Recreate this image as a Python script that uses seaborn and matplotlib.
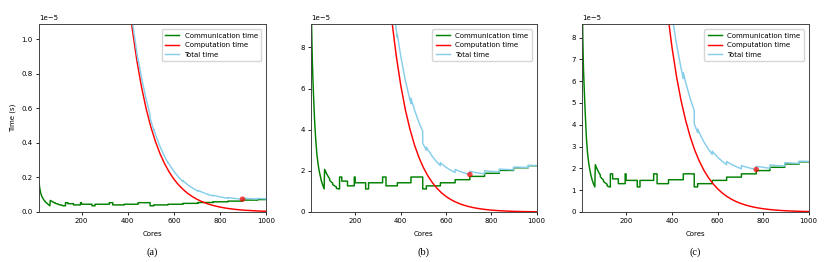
import matplotlib
matplotlib.use("Agg")
import matplotlib.pyplot as plt
import seaborn as sns
import numpy as np
from matplotlib.ticker import MultipleLocator

# ---------------- data (time values in units of 1e-5 s) ----------------
SCALE = 1e-5

# panel (a)
a_comm_x = [15, 18, 22, 26, 30, 36, 42, 48, 55, 62, 64, 72, 80, 86, 86, 94, 100, 100, 108, 116, 116, 126, 130, 130,
            140, 140, 165, 165, 195, 195, 199, 199, 245, 245, 258, 258, 320, 320, 335, 335, 385, 385, 445, 445,
            497, 497, 513, 513, 575, 575, 640, 640, 705, 705, 770, 770, 835, 835, 898, 898, 963, 963, 1000]
a_comm_y = [0.175, 0.14, 0.112, 0.095, 0.083, 0.07, 0.06, 0.052, 0.044, 0.036, 0.067, 0.061, 0.055, 0.052, 0.05,
            0.047, 0.045, 0.043, 0.041, 0.039, 0.037, 0.036, 0.036, 0.054, 0.054, 0.048, 0.048, 0.041, 0.041, 0.054,
            0.054, 0.045, 0.045, 0.036, 0.036, 0.045, 0.045, 0.054, 0.054, 0.041, 0.041, 0.045, 0.045, 0.054,
            0.054, 0.036, 0.036, 0.041, 0.041, 0.045, 0.045, 0.050, 0.050, 0.055, 0.055, 0.059, 0.059, 0.063,
            0.063, 0.069, 0.069, 0.072, 0.072]
a_comp_x = [380, 400, 420, 440, 460, 480, 500, 520, 540, 560, 580, 600, 620, 640, 660, 680, 700, 720, 740, 760,
            780, 800, 820, 840, 860, 880, 900, 920, 940, 960, 980, 1000]
a_comp_y = [1.545, 1.278, 1.057, 0.874, 0.723, 0.598, 0.494, 0.409, 0.338, 0.280, 0.231, 0.191, 0.158, 0.131,
            0.108, 0.0895, 0.0740, 0.0612, 0.0506, 0.0418, 0.0346, 0.0286, 0.0237, 0.0196, 0.0162, 0.0134, 0.0111,
            0.0092, 0.0076, 0.0063, 0.0052, 0.0043]
a_tot_x = [400, 420, 440, 445, 445, 460, 480, 497, 497, 500, 513, 513, 520, 540, 560, 575, 575, 580, 600, 620,
           640, 640, 660, 680, 700, 705, 705, 720, 740, 760, 770, 770, 780, 800, 820, 835, 835, 840, 860, 880,
           898, 898, 900, 920, 940, 960, 963, 963, 980, 1000]
a_tot_y = [1.323, 1.102, 0.919, 0.878, 0.887, 0.777, 0.652, 0.562, 0.544, 0.530, 0.473, 0.478, 0.450, 0.379,
           0.321, 0.283, 0.287, 0.276, 0.236, 0.203, 0.176, 0.181, 0.158, 0.1395, 0.124, 0.1205, 0.1255, 0.1162,
           0.1056, 0.0968, 0.093, 0.097, 0.0936, 0.0876, 0.0827, 0.0795, 0.0835, 0.0826, 0.0792, 0.0764, 0.0743,
           0.0803, 0.0801, 0.0782, 0.0766, 0.0753, 0.0751, 0.0781, 0.0772, 0.0763]

# panel (b)
b_comm_x = [4, 6, 8, 10, 12, 15, 20, 25, 30, 35, 40, 45, 50, 55, 62, 64, 72, 80, 86, 86, 94, 100, 100, 108, 116,
            116, 126, 130, 130, 140, 140, 165, 165, 195, 195, 199, 199, 245, 245, 258, 258, 320, 320, 335, 335,
            385, 385, 445, 445, 497, 497, 513, 513, 575, 575, 640, 640, 705, 705, 770, 770, 835, 835, 898, 898,
            963, 963, 1000]
b_comm_y = [12.5, 9.5, 8.3, 7.3, 6.6, 5.7, 4.4, 3.5, 2.8, 2.35, 2.0, 1.75, 1.5, 1.33, 1.12, 2.07, 1.88, 1.72,
            1.62, 1.55, 1.45, 1.40, 1.33, 1.27, 1.22, 1.15, 1.12, 1.12, 1.70, 1.70, 1.50, 1.50, 1.27, 1.27, 1.70,
            1.70, 1.42, 1.42, 1.12, 1.12, 1.42, 1.42, 1.70, 1.70, 1.27, 1.27, 1.42, 1.42, 1.70, 1.70, 1.12, 1.12,
            1.27, 1.27, 1.42, 1.42, 1.57, 1.57, 1.73, 1.73, 1.88, 1.88, 2.02, 2.02, 2.15, 2.15, 2.25, 2.25]
b_comp_x = [340, 360, 380, 400, 420, 440, 460, 480, 500, 520, 540, 560, 580, 600, 620, 640, 660, 680, 700, 720,
            740, 760, 780, 800, 820, 840, 860, 880, 900, 920, 940, 960, 980, 1000]
b_comp_y = [11.56, 9.37, 7.60, 6.16, 4.99, 4.05, 3.28, 2.66, 2.16, 1.75, 1.42, 1.15, 0.93, 0.754, 0.611, 0.496,
            0.401, 0.326, 0.264, 0.214, 0.174, 0.141, 0.114, 0.092, 0.075, 0.061, 0.049, 0.040, 0.032, 0.026,
            0.021, 0.017, 0.014, 0.011]
b_tot_x = [360, 380, 385, 385, 400, 420, 440, 445, 445, 460, 480, 497, 497, 500, 513, 513, 520, 540, 560, 575,
           575, 580, 600, 620, 640, 640, 660, 680, 700, 705, 705, 720, 740, 760, 770, 770, 780, 800, 820, 835,
           835, 840, 860, 880, 898, 898, 900, 920, 940, 960, 963, 963, 980, 1000]
b_tot_y = [10.64, 8.87, 8.48, 8.63, 7.58, 6.41, 5.47, 5.26, 5.54, 4.98, 4.36, 3.92, 3.34, 3.28, 3.00, 3.15, 3.02,
           2.69, 2.42, 2.25, 2.40, 2.35, 2.17, 2.03, 1.92, 2.07, 1.97, 1.90, 1.83, 1.82, 1.98, 1.94, 1.90, 1.87,
           1.86, 2.01, 1.99, 1.97, 1.96, 1.94, 2.08, 2.08, 2.07, 2.06, 2.05, 2.18, 2.18, 2.18, 2.17, 2.17, 2.17,
           2.27, 2.26, 2.26]

# panel (c)
c_comm_x = [7, 9, 12, 16, 20, 25, 30, 35, 40, 45, 50, 55, 62, 64, 72, 80, 86, 86, 94, 100, 100, 108, 116, 116,
            126, 130, 130, 140, 140, 165, 165, 195, 195, 199, 199, 248, 248, 260, 260, 320, 320, 335, 335, 385,
            385, 450, 450, 498, 498, 513, 513, 577, 577, 640, 640, 705, 705, 770, 770, 830, 830, 895, 895, 958,
            958, 1000]
c_comm_y = [10.5, 8.1, 6.6, 5.5, 4.5, 3.4, 2.7, 2.25, 1.93, 1.68, 1.48, 1.32, 1.15, 2.17, 1.97, 1.80, 1.70, 1.62,
            1.52, 1.47, 1.40, 1.33, 1.27, 1.20, 1.15, 1.15, 1.75, 1.75, 1.52, 1.52, 1.30, 1.30, 1.75, 1.75, 1.45,
            1.45, 1.15, 1.15, 1.45, 1.45, 1.75, 1.75, 1.30, 1.30, 1.48, 1.48, 1.75, 1.75, 1.15, 1.15, 1.30, 1.30,
            1.45, 1.45, 1.60, 1.60, 1.75, 1.75, 1.90, 1.90, 2.05, 2.05, 2.20, 2.20, 2.30, 2.30]
c_comp_x = [340, 360, 380, 400, 420, 440, 460, 480, 500, 520, 540, 560, 580, 600, 620, 640, 660, 680, 700, 720,
            740, 760, 780, 800, 820, 840, 860, 880, 900, 920, 940, 960, 980, 1000]
c_comp_y = [13.65, 11.22, 9.22, 7.58, 6.23, 5.12, 4.21, 3.46, 2.84, 2.34, 1.92, 1.58, 1.30, 1.07, 0.878, 0.721,
            0.593, 0.487, 0.401, 0.329, 0.271, 0.2225, 0.183, 0.150, 0.124, 0.102, 0.0835, 0.0687, 0.0564, 0.0464,
            0.0381, 0.0313, 0.0258, 0.0212]
c_tot_x = [380, 385, 385, 400, 420, 440, 450, 450, 460, 480, 498, 498, 500, 513, 513, 520, 540, 560, 577, 577,
           580, 600, 620, 640, 640, 660, 680, 700, 705, 705, 720, 740, 760, 770, 770, 780, 800, 820, 830, 830,
           840, 860, 880, 895, 895, 900, 920, 940, 958, 958, 960, 980, 1000]
c_tot_y = [10.52, 10.08, 10.26, 9.06, 7.71, 6.60, 6.12, 6.39, 5.96, 5.21, 4.65, 4.05, 3.99, 3.65, 3.80, 3.64,
           3.22, 2.88, 2.64, 2.79, 2.75, 2.52, 2.33, 2.17, 2.32, 2.19, 2.09, 2.00, 1.98, 2.13, 2.08, 2.02, 1.97,
           1.95, 2.10, 2.08, 2.05, 2.02, 2.01, 2.16, 2.15, 2.13, 2.12, 2.11, 2.26, 2.26, 2.25, 2.24, 2.23, 2.33,
           2.33, 2.33, 2.32]

captions = ["(a)", "(b)", "(c)"]
x_left = [15, 4, 7]
y_top = [1.087, 9.12, 8.61]
y_step = [0.2, 2, 1]

# ---------------- figure ----------------
plt.rcParams["font.family"] = ["DejaVu Sans"]
fig = plt.figure(figsize=(8.3, 2.62), dpi=100)

boxes = [(39, 266), (311, 536.7), (582.3, 808.7)]
top_px, bot_px = 24.3, 212.0
W, H = 830.0, 262.0

panels = [
    (a_comm_x, a_comm_y, a_comp_x, a_comp_y, a_tot_x, a_tot_y),
    (b_comm_x, b_comm_y, b_comp_x, b_comp_y, b_tot_x, b_tot_y),
    (c_comm_x, c_comm_y, c_comp_x, c_comp_y, c_tot_x, c_tot_y),
]

FS = 5
LW = 1.05
for i, (cx, cy, px, py, tx, ty) in enumerate(panels):
    l, r = boxes[i]
    ax = fig.add_axes([l / W, 1 - bot_px / H, (r - l) / W, (bot_px - top_px) / H])
    sns.lineplot(x=cx, y=np.array(cy) * SCALE, ax=ax, color="green", lw=LW,
                 sort=False, estimator=None, label="Communication time")
    sns.lineplot(x=px, y=np.array(py) * SCALE, ax=ax, color="red", lw=LW,
                 sort=False, estimator=None, label="Computation time")
    sns.lineplot(x=tx, y=np.array(ty) * SCALE, ax=ax, color="skyblue", lw=LW,
                 sort=False, estimator=None, label="Total time")
    k = int(np.argmin(ty))
    sns.scatterplot(x=[tx[k]], y=[ty[k] * SCALE], ax=ax, color="red", s=16,
                    alpha=0.7, edgecolor="none", zorder=5)
    ax.set_xlim(x_left[i], 1000)
    ax.set_ylim(0, y_top[i] * SCALE)
    ax.xaxis.set_major_locator(MultipleLocator(200))
    ax.yaxis.set_major_locator(MultipleLocator(y_step[i] * SCALE))
    ax.tick_params(labelsize=FS, length=2.5, width=0.6, pad=2)
    ax.yaxis.get_offset_text().set_fontsize(FS)
    for s in ax.spines.values():
        s.set_linewidth(0.7)
        s.set_color("#444444")
    ax.set_xlabel("Cores", fontsize=FS, labelpad=5)
    if i == 0:
        ax.set_ylabel("Time (s)", fontsize=FS, labelpad=4)
    else:
        ax.set_ylabel("")
    ax.legend(loc="upper right", fontsize=FS, frameon=True, handlelength=2.0,
              borderpad=0.5, labelspacing=0.5, framealpha=0.8, borderaxespad=0.7)
    fig.text((l + r) / 2 / W, 1 - 252 / H, captions[i], ha="center", va="center",
             fontsize=7.5, family="Liberation Serif")

fig.savefig("out.png", dpi=100)
